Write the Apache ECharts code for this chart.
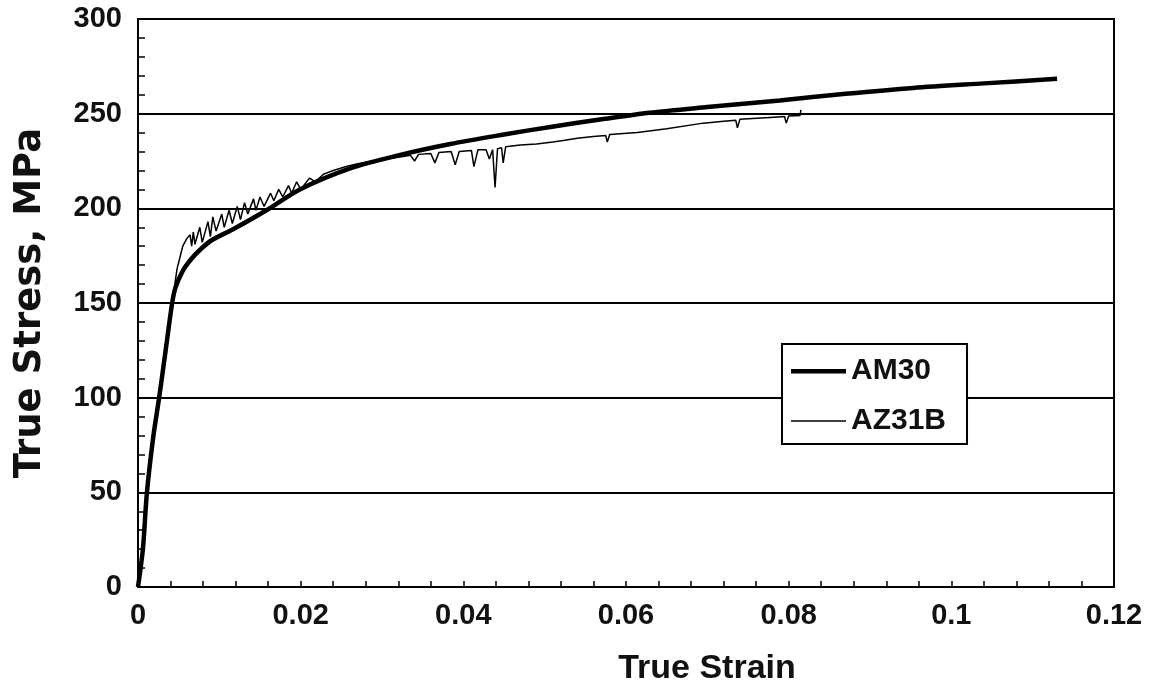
<!DOCTYPE html>
<html>
<head>
<meta charset="utf-8">
<script src="https://cdn.jsdelivr.net/npm/echarts@6/dist/echarts.min.js"></script>
<style>html,body{margin:0;padding:0;background:#fff;}#c{width:1159px;height:690px;}</style>
</head>
<body>
<div id="c"></div>
<script>
const seriesNames = ['AM30', 'AZ31B'];
const xTicks = [0, 0.02, 0.04, 0.06, 0.08, 0.1, 0.12];
const yTicks = [0, 50, 100, 150, 200, 250, 300];

const amStrain = [0, 0.0006, 0.0011, 0.0019, 0.0026, 0.0034, 0.0042, 0.0046, 0.0055, 0.0065, 0.0076, 0.009, 0.0117, 0.0158, 0.0199, 0.026, 0.032, 0.0384, 0.045, 0.0507, 0.057, 0.0629, 0.07, 0.0789, 0.087, 0.0953, 0.104, 0.113];
const amStress = [0, 20, 50, 80, 100, 125, 150, 158, 167, 173, 178, 183, 189, 199, 210, 221, 228, 234, 239, 243, 247, 250.5, 253.5, 257, 260.5, 263.6, 266, 268.4];

const azStrain = [0, 0.0006, 0.0011, 0.0019, 0.0026, 0.0034, 0.0042, 0.0048, 0.0055, 0.006, 0.0064, 0.0066, 0.0068, 0.007, 0.0076, 0.0079, 0.0086, 0.0089, 0.0092, 0.0096, 0.0103, 0.0106, 0.0112, 0.0116, 0.0122, 0.0126, 0.0131, 0.0135, 0.0142, 0.0145, 0.015, 0.0155, 0.0163, 0.0167, 0.0173, 0.0178, 0.0185, 0.0189, 0.0195, 0.02, 0.0211, 0.0218, 0.0228, 0.024, 0.0255, 0.027, 0.0289, 0.0305, 0.032, 0.0335, 0.034, 0.0345, 0.036, 0.0365, 0.037, 0.0385, 0.039, 0.0395, 0.041, 0.0413, 0.0418, 0.0428, 0.0432, 0.0436, 0.0439, 0.0442, 0.0447, 0.0449, 0.0452, 0.047, 0.049, 0.051, 0.0525, 0.054, 0.056, 0.0575, 0.0577, 0.058, 0.0614, 0.065, 0.0695, 0.072, 0.0735, 0.0737, 0.074, 0.0777, 0.0795, 0.0797, 0.08, 0.0814, 0.0815];
const azStress = [0, 20, 50, 80, 100, 125, 150, 168, 180, 184, 186, 180, 187.5, 181, 190, 182, 193, 185, 195.5, 188, 197, 190, 199, 192, 201, 194, 203, 197, 205, 199, 206, 201, 208, 204, 210, 206, 212, 208, 214, 210, 216, 214, 218, 220, 222, 223.5, 225, 226, 227, 228, 225, 228.5, 229, 224, 229.5, 230, 223, 230, 230.5, 222, 231, 231, 226, 231, 211, 231.5, 232, 224, 232.5, 233.5, 234, 235, 236, 237, 238, 238.5, 235, 239, 240, 242, 245, 246, 246.5, 242.5, 247, 248, 248.5, 245, 248.8, 249, 252];

const zip = (xs, ys) => xs.map((x, i) => [x, ys[i]]);
const FONT = '"Liberation Sans", Arial, sans-serif';
// legend line icons (box kept at 55x30 by the bounding move-to points)
const thickIcon = 'path://M0,0 M55,30 M0,13 L55,13 L55,17.5 L0,17.5 Z';
const thinIcon = 'path://M0,0 M55,30 M0,14.3 L55,14.3 L55,15.7 L0,15.7 Z';

const chart = echarts.init(document.getElementById('c'), null, {renderer: 'canvas'});
chart.setOption({
  animation: false,
  backgroundColor: '#fff',
  grid: {left: 138, right: 45, top: 19, bottom: 103, show: true, borderColor: '#000', borderWidth: 2,
         backgroundColor: 'transparent', containLabel: false, outerBoundsMode: 'none'},
  legend: {
    left: 782, top: 344, orient: 'vertical',
    backgroundColor: '#fff', borderColor: '#000', borderWidth: 2,
    padding: [12, 21, 8, 9],
    itemWidth: 55, itemHeight: 30, itemGap: 20,
    textStyle: {fontFamily: FONT, fontWeight: 'bold', fontSize: 30, color: '#111'},
    data: [
      {name: seriesNames[0], icon: thickIcon, itemStyle: {color: '#000', borderWidth: 0}},
      {name: seriesNames[1], icon: thinIcon, itemStyle: {color: '#000', borderWidth: 0}}
    ]
  },
  xAxis: {
    type: 'value', min: xTicks[0], max: xTicks[xTicks.length - 1], interval: 0.02,
    name: 'True Strain', nameLocation: 'middle', nameGap: 65,
    nameTextStyle: {fontFamily: FONT, fontWeight: 'bold', fontSize: 34, color: '#111', padding: [0, 0, 0, 162]},
    axisLine: {lineStyle: {color: '#000', width: 2}},
    axisTick: {inside: true, length: 6, lineStyle: {color: '#000', width: 1.5}},
    minorTick: {show: true, splitNumber: 5, length: 6, lineStyle: {color: '#000', width: 1.5}},
    axisLabel: {fontFamily: FONT, fontWeight: 'bold', fontSize: 29, color: '#111', margin: 14},
    splitLine: {show: false}
  },
  yAxis: {
    type: 'value', min: yTicks[0], max: yTicks[yTicks.length - 1], interval: 50,
    name: 'True Stress, MPa', nameLocation: 'middle', nameGap: 89,
    nameTextStyle: {fontFamily: '"DejaVu Sans", sans-serif', fontWeight: 'bold', fontSize: 37, color: '#111'},
    axisLine: {lineStyle: {color: '#000', width: 2}},
    axisTick: {inside: true, length: 7, lineStyle: {color: '#000', width: 1.5}},
    minorTick: {show: true, splitNumber: 5, length: 7, lineStyle: {color: '#000', width: 1.5}},
    axisLabel: {fontFamily: FONT, fontWeight: 'bold', fontSize: 29, color: '#111', margin: 16},
    splitLine: {show: true, lineStyle: {color: '#000', width: 2}}
  },
  series: [
    {name: seriesNames[0], type: 'line', data: zip(amStrain, amStress), symbol: 'none', smooth: 0.3,
     lineStyle: {color: '#000', width: 4.5}, itemStyle: {color: '#000'}, z: 3},
    {name: seriesNames[1], type: 'line', data: zip(azStrain, azStress), symbol: 'none',
     lineStyle: {color: '#000', width: 1.5}, itemStyle: {color: '#000'}, z: 2}
  ]
});
</script>
</body>
</html>
